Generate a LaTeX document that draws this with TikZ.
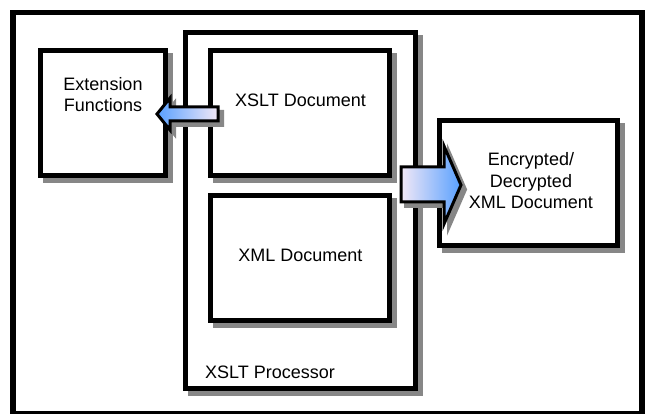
\documentclass[tikz,border=0pt]{standalone}
\usepackage{fontspec}
\setmainfont{Liberation Sans}
\usetikzlibrary{shadows}
\definecolor{shadowgray}{RGB}{135,135,135}
\definecolor{arrowblue}{RGB}{88,160,255}
\definecolor{arrowpale}{RGB}{242,232,246}
\begin{document}
\begin{tikzpicture}[x=1pt, y=-1pt,
  boxshadow/.style={drop shadow={shadow xshift=5pt, shadow yshift=-5pt,
      opacity=1, fill=shadowgray, draw=shadowgray, line width=5pt}},
  framebox/.style={rectangle, draw=black, fill=white, line width=5pt,
      inner sep=0pt, boxshadow},
  lbl/.style={font=\fontsize{18}{21.5}\selectfont, align=center, inner sep=0pt},
  blockarrow/.style={draw=black, line width=3pt, line join=miter,
      drop shadow={shadow xshift=4.5pt, shadow yshift=-4.5pt, opacity=1,
      fill=shadowgray, draw=shadowgray, line width=3pt}}
]
\useasboundingbox (0,0) rectangle (646,414);

% outer frame
\node[rectangle, draw=black, line width=5.5pt, inner sep=0pt,
      minimum width=629pt, minimum height=401.5pt] (frame) at (327.5,213.35) {};

% boxes
\node[framebox, minimum width=125pt, minimum height=125pt] (ext) at (103,113) {};
\node[framebox, minimum width=230pt, minimum height=356pt] (proc) at (300.5,211) {};
\node[framebox, minimum width=178.5pt, minimum height=125pt] (xslt) at (299.75,113) {};
\node[framebox, minimum width=178.5pt, minimum height=125pt] (xml) at (299.75,258) {};
\node[framebox, minimum width=178.5pt, minimum height=125pt] (enc) at (528.25,183) {};

% labels
\node[lbl] (extlbl) at (103,94.5) {Extension\\Functions};
\node[lbl] (xsltlbl) at (300.5,100) {XSLT Document};
\node[lbl] (xmllbl) at (300.5,255) {XML Document};
\node[lbl] (enclbl) at (531,181) {Encrypted/\\Decrypted\\XML Document};
\node[lbl, anchor=base west] (proclbl) at (205,379) {XSLT Processor};

% arrow from the XSLT document to the extension functions
\coordinate (ltip) at (157,114);
\draw[blockarrow, left color=arrowblue, right color=arrowpale]
  (ltip) -- (170,98) -- (170,107) -- (218,107) -- (218,121)
  -- (170,121) -- (170,130) -- cycle;

% arrow from the processor to the output document
\coordinate (rtip) at (461,185);
\draw[blockarrow, left color=arrowpale, right color=arrowblue]
  (401,167) -- (444,167) -- (444,146) -- (rtip) -- (444,224)
  -- (444,202) -- (401,202) -- cycle;
\end{tikzpicture}
\end{document}
